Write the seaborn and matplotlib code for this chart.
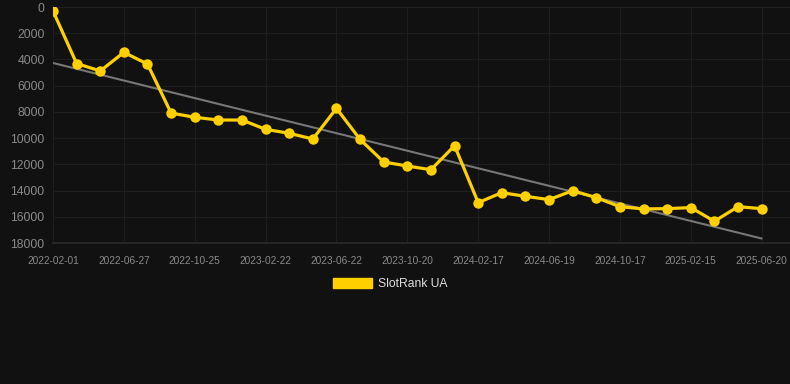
import numpy as np
import pandas as pd
import seaborn as sns
import matplotlib.pyplot as plt
from matplotlib.patches import Patch

# ---------------------------------------------
# DATA
# ---------------------------------------------
ranks = [300, 4310, 4880, 3460, 4350, 8090, 8410, 8620, 8620, 9330,
         9630, 10070, 7730, 10100, 11820, 12130, 12410, 10580, 14920, 14160,
         14440, 14690, 14010, 14540, 15230, 15400, 15380, 15300, 16340, 15230,
         15380]
tick_labels = ["2022-02-01", "2022-06-27", "2022-10-25", "2023-02-22",
               "2023-06-22", "2023-10-20", "2024-02-17", "2024-06-19",
               "2024-10-17", "2025-02-15", "2025-06-20"]
y_ticks = [0, 2000, 4000, 6000, 8000, 10000, 12000, 14000, 16000, 18000]
series_name = "SlotRank UA"

BG = "#111111"
YELLOW = "#FFD000"
TREND = "#777777"
GRID = "#1e1e1e"
TEXT = "#8a8a8a"

df = pd.DataFrame({"idx": np.arange(len(ranks)), "rank": ranks})
# garis tren linear dari data
slope, intercept = np.polyfit(df["idx"], df["rank"], 1)
df["trend"] = slope * df["idx"] + intercept

sns.set_theme(style="dark")
plt.rcParams["font.family"] = ["Liberation Sans", "DejaVu Sans"]

fig = plt.figure(figsize=(7.9, 3.84), dpi=100, facecolor=BG)
ax = fig.add_axes([53 / 790, 1 - 243 / 384, 737 / 790, 236 / 384])
ax.set_facecolor(BG)

sns.lineplot(data=df, x="idx", y="trend", ax=ax, color=TREND, linewidth=1.5)
sns.lineplot(data=df, x="idx", y="rank", ax=ax, color=YELLOW, linewidth=2.3,
             marker="o", markersize=7.5, markeredgewidth=0, markeredgecolor=YELLOW)

ax.set_xlim(0, 31.2)
ax.set_ylim(18000, 0)
ax.set_yticks(y_ticks)
ax.set_yticklabels([str(v) for v in y_ticks])
ax.set_xticks(np.arange(0, len(ranks), 3))
ax.set_xticklabels(tick_labels)
ax.set_xlabel("")
ax.set_ylabel("")

ax.grid(True, color=GRID, linewidth=0.8)
ax.set_axisbelow(True)
for side in ["top", "right", "left"]:
    ax.spines[side].set_visible(False)
ax.spines["bottom"].set_color("#2a2a2a")
ax.tick_params(axis="y", colors=TEXT, labelsize=8.8, length=0, pad=6)
ax.tick_params(axis="x", colors=TEXT, labelsize=7.3, length=0, pad=9)

handle = Patch(facecolor=YELLOW, edgecolor=YELLOW)
fig.legend([handle], [series_name], loc="center",
           bbox_to_anchor=(0.5 - 5 / 790, 1 - 284 / 384),
           frameon=False, fontsize=8.7, labelcolor="#dddddd",
           handlelength=3.2, handleheight=0.95, handletextpad=0.5)

plt.savefig("out.png", dpi=100, facecolor=BG)
plt.close()
